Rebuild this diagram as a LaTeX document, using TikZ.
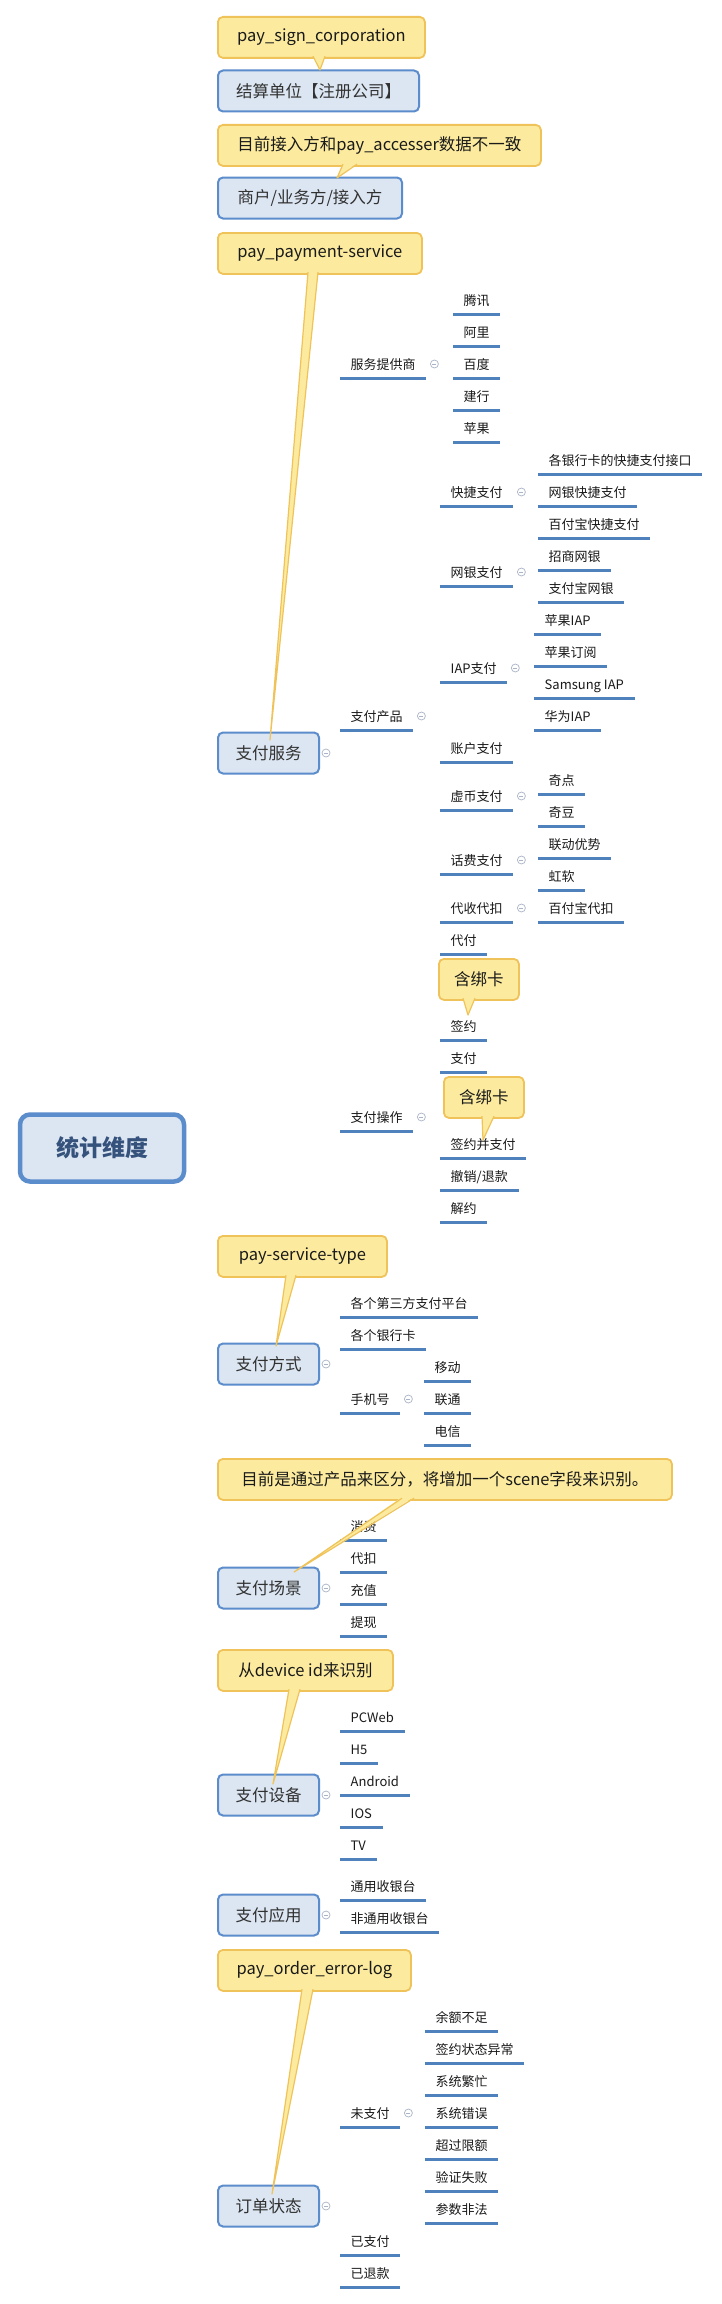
\documentclass[tikz,border=0pt]{standalone}
\usepackage{fontspec}
\setmainfont{Noto Sans CJK SC}
\usetikzlibrary{calc}
\definecolor{lineblue}{HTML}{4F81BD}
\definecolor{ulblue}{HTML}{4F81BD}
\definecolor{boxfill}{HTML}{DCE6F2}
\definecolor{boxdraw}{HTML}{5B8CCB}
\definecolor{callfill}{HTML}{FCEB9E}
\definecolor{calldraw}{HTML}{EFC35A}
\definecolor{roottext}{HTML}{35527D}
\definecolor{txt}{HTML}{1A1A1A}
\definecolor{circ}{HTML}{A9B4C6}
\pgfdeclarelayer{bg}
\pgfsetlayers{bg,main}
\newcommand\mytopic[4]{\node[topic] (#1) at (#2,#3) {#4};\draw[uline] (#1.south west) -- (#1.south east);}
\newcommand\mycurve[2]{\draw[conn] (#1) .. controls ($(#1 |- #2.south west)+(3,0)$) and ($(#1 |- #2.south west)+(4,0)$) .. (#2.south west);}
\newcommand\mypointer[4]{%
  \fill[callfill] (#1,#3-2) -- (#2,#3-2) -- (#4) -- cycle;
  \draw[calldraw, line width=1.2pt, line join=round] (#1,#3-0.8) -- (#4) -- (#2,#3-0.8);}
\begin{document}
\begin{tikzpicture}[x=1pt,y=-1pt,
  conn/.style={draw=lineblue, line width=0.9pt},
  uline/.style={draw=ulblue, line width=3pt},
  topic/.style={anchor=south west, inner xsep=10.5pt, inner ysep=0pt, text height=12pt, text depth=8pt, font=\fontsize{13}{15}\selectfont, text=txt},
  mainbox/.style={anchor=west, draw=boxdraw, line width=2pt, fill=boxfill, rounded corners=5pt, minimum height=41pt, inner xsep=0pt, font=\fontsize{16.5}{19}\selectfont, text=txt!90},
  rootbox/.style={draw=boxdraw, line width=4.5pt, fill=boxfill, rounded corners=10pt, minimum width=164pt, minimum height=67pt, font=\fontsize{23}{26}\selectfont\bfseries, text=roottext},
  callout/.style={anchor=north west, draw=calldraw, line width=1.8pt, fill=callfill, rounded corners=5pt, minimum height=41pt, inner xsep=0pt, font=\fontsize{16.5}{19}\selectfont, text=txt},
  collapse/.style={circle, draw=circ, fill=white, line width=0.7pt, minimum size=8pt, inner sep=0pt, path picture={\draw[circ, line width=0.7pt] ([xshift=-2pt]path picture bounding box.center) -- ([xshift=2pt]path picture bounding box.center);}},
]
\useasboundingbox (0,0) rectangle (721,2304);
\fill[white] (0,0) rectangle (721,2304);

% root and main boxes
\node[rootbox] (root) at (102,1148) {统计维度};
\node[mainbox, minimum width=201pt] (b1) at (217,91) {结算单位【注册公司】};
\node[mainbox, minimum width=184pt] (b2) at (217,198) {商户/业务方/接入方};
\node[mainbox, minimum width=101pt] (b3) at (217,753) {支付服务};
\node[mainbox, minimum width=101pt] (b4) at (217,1364) {支付方式};
\node[mainbox, minimum width=101pt] (b5) at (217,1588) {支付场景};
\node[mainbox, minimum width=101pt] (b6) at (217,1795) {支付设备};
\node[mainbox, minimum width=101pt] (b7) at (217,1915) {支付应用};
\node[mainbox, minimum width=101pt] (b8) at (217,2206) {订单状态};

% 支付服务
\mytopic{s1}{340}{378}{服务提供商}
\mytopic{s2}{340}{730}{支付产品}
\mytopic{s3}{340}{1131}{支付操作}
\mytopic{t1}{453}{314}{腾讯}
\mytopic{t2}{453}{346}{阿里}
\mytopic{t3}{453}{378}{百度}
\mytopic{t4}{453}{410}{建行}
\mytopic{t5}{453}{442}{苹果}
\mytopic{p1}{440}{506}{快捷支付}
\mytopic{p2}{440}{586}{网银支付}
\mytopic{p3}{440}{682}{IAP支付}
\mytopic{p4}{440}{762}{账户支付}
\mytopic{p5}{440}{810}{虚币支付}
\mytopic{p6}{440}{874}{话费支付}
\mytopic{p7}{440}{922}{代收代扣}
\mytopic{p8}{440}{954}{代付}
\mytopic{q1}{538}{474}{各银行卡的快捷支付接口}
\mytopic{q2}{538}{506}{网银快捷支付}
\mytopic{q3}{538}{538}{百付宝快捷支付}
\mytopic{q4}{538}{570}{招商网银}
\mytopic{q5}{538}{602}{支付宝网银}
\mytopic{q6}{534}{634}{苹果IAP}
\mytopic{q7}{534}{666}{苹果订阅}
\mytopic{q8}{534}{698}{Samsung IAP}
\mytopic{q9}{534}{730}{华为IAP}
\mytopic{q10}{538}{794}{奇点}
\mytopic{q11}{538}{826}{奇豆}
\mytopic{q12}{538}{858}{联动优势}
\mytopic{q13}{538}{890}{虹软}
\mytopic{q14}{538}{922}{百付宝代扣}
\mytopic{o1}{440}{1040}{签约}
\mytopic{o2}{440}{1072}{支付}
\mytopic{o3}{440}{1158}{签约并支付}
\mytopic{o4}{440}{1190}{撤销/退款}
\mytopic{o5}{440}{1222}{解约}
% 支付方式
\mytopic{m1}{340}{1317}{各个第三方支付平台}
\mytopic{m2}{340}{1349}{各个银行卡}
\mytopic{m3}{340}{1413}{手机号}
\mytopic{m4}{424}{1381}{移动}
\mytopic{m5}{424}{1413}{联通}
\mytopic{m6}{424}{1445}{电信}
% 支付场景
\mytopic{n1}{340}{1540}{消费}
\mytopic{n2}{340}{1572}{代扣}
\mytopic{n3}{340}{1604}{充值}
\mytopic{n4}{340}{1636}{提现}
% 支付设备
\mytopic{d1}{340}{1731}{PCWeb}
\mytopic{d2}{340}{1763}{H5}
\mytopic{d3}{340}{1795}{Android}
\mytopic{d4}{340}{1827}{IOS}
\mytopic{d5}{340}{1859}{TV}
% 支付应用
\mytopic{a1}{340}{1900}{通用收银台}
\mytopic{a2}{340}{1932}{非通用收银台}
% 订单状态
\mytopic{r1}{340}{2127}{未支付}
\mytopic{r2}{340}{2255}{已支付}
\mytopic{r3}{340}{2287}{已退款}
\mytopic{r4}{425}{2031}{余额不足}
\mytopic{r5}{425}{2063}{签约状态异常}
\mytopic{r6}{425}{2095}{系统繁忙}
\mytopic{r7}{425}{2127}{系统错误}
\mytopic{r8}{425}{2159}{超过限额}
\mytopic{r9}{425}{2191}{验证失败}
\mytopic{r10}{425}{2223}{参数非法}

% connectors
\begin{pgfonlayer}{bg}
\coordinate (tj) at (195,1148);
\draw[conn] (root.east) -- (tj);
\foreach \b in {b1,b2,b3,b4,b5,b6,b7,b8} \draw[conn, rounded corners=6pt] (tj) |- (\b.west);
% elbows
\coordinate (e3) at ($(b3.east)+(12,0)$);
\draw[conn] (b3.east) -- (e3);
\foreach \c in {s1,s2,s3} \draw[conn, rounded corners=3pt] (e3) |- (\c.south west);
\coordinate (e4) at ($(b4.east)+(12,0)$);
\draw[conn] (b4.east) -- (e4);
\foreach \c in {m1,m2,m3} \draw[conn, rounded corners=3pt] (e4) |- (\c.south west);
\coordinate (e5) at ($(b5.east)+(12,0)$);
\draw[conn] (b5.east) -- (e5);
\foreach \c in {n1,n2,n3,n4} \draw[conn, rounded corners=3pt] (e5) |- (\c.south west);
\coordinate (e6) at ($(b6.east)+(12,0)$);
\draw[conn] (b6.east) -- (e6);
\foreach \c in {d1,d2,d3,d4,d5} \draw[conn, rounded corners=3pt] (e6) |- (\c.south west);
\coordinate (e7) at ($(b7.east)+(12,0)$);
\draw[conn] (b7.east) -- (e7);
\foreach \c in {a1,a2} \draw[conn, rounded corners=3pt] (e7) |- (\c.south west);
\coordinate (e8) at ($(b8.east)+(12,0)$);
\draw[conn] (b8.east) -- (e8);
\foreach \c in {r1,r2,r3} \draw[conn, rounded corners=3pt] (e8) |- (\c.south west);
% curves
\coordinate (js1) at (442,378);
\draw[conn] (s1.south east) -- (js1);
\foreach \c in {t1,t2,t3,t4,t5} {\mycurve{js1}{\c}}
\coordinate (js2) at (429,730);
\draw[conn] (s2.south east) -- (js2);
\foreach \c in {p1,p2,p3,p4,p5,p6,p7,p8} {\mycurve{js2}{\c}}
\coordinate (js3) at (429,1131);
\draw[conn] (s3.south east) -- (js3);
\foreach \c in {o1,o2,o3,o4,o5} {\mycurve{js3}{\c}}
\coordinate (jp1) at (527,506);
\draw[conn] (p1.south east) -- (jp1);
\foreach \c in {q1,q2,q3} {\mycurve{jp1}{\c}}
\coordinate (jp2) at (527,586);
\draw[conn] (p2.south east) -- (jp2);
\foreach \c in {q4,q5} {\mycurve{jp2}{\c}}
\coordinate (jp3) at (523,682);
\draw[conn] (p3.south east) -- (jp3);
\foreach \c in {q6,q7,q8,q9} {\mycurve{jp3}{\c}}
\coordinate (jp5) at (527,810);
\draw[conn] (p5.south east) -- (jp5);
\foreach \c in {q10,q11} {\mycurve{jp5}{\c}}
\coordinate (jp6) at (527,874);
\draw[conn] (p6.south east) -- (jp6);
\foreach \c in {q12,q13} {\mycurve{jp6}{\c}}
\draw[conn] (p7.south east) -- (q14.south west);
\coordinate (jm3) at (413,1413);
\draw[conn] (m3.south east) -- (jm3);
\foreach \c in {m4,m5,m6} {\mycurve{jm3}{\c}}
\coordinate (jr1) at (414,2127);
\draw[conn] (r1.south east) -- (jr1);
\foreach \c in {r4,r5,r6,r7,r8,r9,r10} {\mycurve{jr1}{\c}}
\end{pgfonlayer}

% collapse markers
\foreach \b in {b3,b4,b5,b6,b7,b8} \node[collapse] at ($(\b.east)+(6,0)$) {};
\foreach \c in {s1,s2,s3,p1,p2,p3,p5,p6,p7,m3,r1} \node[collapse] at ($(\c.south east)+(8,-14)$) {};

% callouts
\node[callout, minimum width=207pt] (c1) at (217,16) {pay\_sign\_corporation};
\node[callout, minimum width=323pt] (c2) at (217,124) {目前接入方和pay\_accesser数据不一致};
\node[callout, minimum width=204pt] (c3) at (217,232) {pay\_payment-service};
\node[callout, minimum width=80pt] (c4) at (438,958) {含绑卡};
\node[callout, minimum width=80pt] (c5) at (443,1076) {含绑卡};
\node[callout, minimum width=169pt] (c6) at (217,1235) {pay-service-type};
\node[callout, minimum width=454pt] (c7) at (217,1458) {目前是通过产品来区分，将增加一个scene字段来识别。};
\node[callout, minimum width=175pt] (c8) at (217,1649) {从device id来识别};
\node[callout, minimum width=193pt] (c9) at (217,1949) {pay\_order\_error-log};

\coordinate (tip1) at (320,70);
\coordinate (tip2) at (337,178);
\coordinate (tip3) at (270,740);
\coordinate (tip4) at (468,1015);
\coordinate (tip5) at (483,1140);
\coordinate (tip6) at (276,1346);
\coordinate (tip7) at (294,1572);
\coordinate (tip8) at (273,1784);
\coordinate (tip9) at (272,2194);
\mypointer{313}{325}{57}{tip1}
\mypointer{343}{357}{165}{tip2}
\mypointer{308}{318}{273}{tip3}
\mypointer{463}{475}{999}{tip4}
\mypointer{482}{494}{1117}{tip5}
\mypointer{286}{296}{1276}{tip6}
\mypointer{402}{414}{1499}{tip7}
\mypointer{289}{300}{1690}{tip8}
\mypointer{302}{313}{1990}{tip9}
\end{tikzpicture}
\end{document}
